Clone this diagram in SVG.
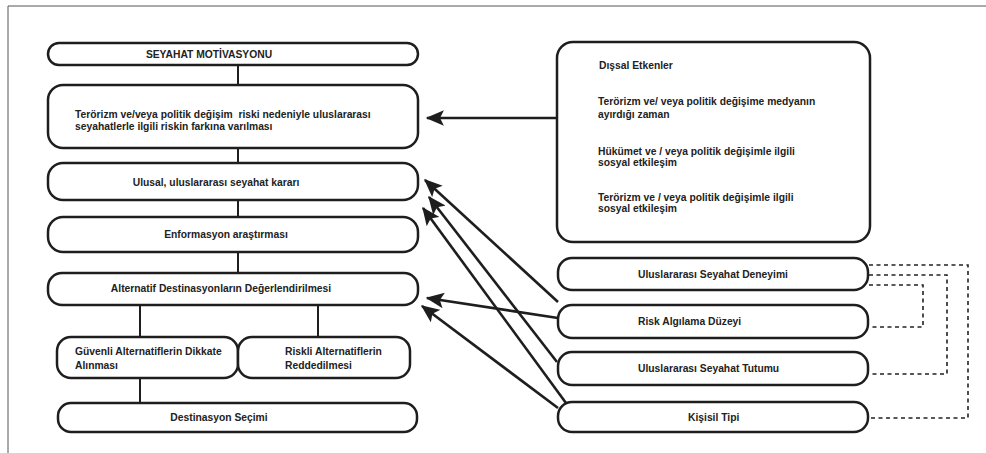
<svg xmlns="http://www.w3.org/2000/svg" width="986" height="453" viewBox="0 0 986 453">
<style>
.box{fill:#fff;stroke:#1e1e1e;stroke-width:2.5}
.t{font-family:"Liberation Sans",Arial,sans-serif;font-size:10.3px;font-weight:bold;fill:#222}
.c{text-anchor:middle}
.ln{stroke:#1e1e1e;stroke-width:2;fill:none}
.ar{stroke:#1e1e1e;stroke-width:2.6;fill:none;marker-end:url(#ah)}
.dl{stroke:#222;stroke-width:1.6;fill:none;stroke-dasharray:4 3.5}
</style>
<defs>
<marker id="ah" markerWidth="8" markerHeight="6" refX="6.5" refY="3" orient="auto" markerUnits="strokeWidth">
<path d="M0,0 L7,3 L0,6 L1.5,3 Z" fill="#1e1e1e"/>
</marker>
</defs>
<rect width="986" height="453" fill="#fff"/>
<path d="M8,453 V6 H986" stroke="#555" stroke-width="1" fill="none"/>
<g id="connectors">
<path class="ln" d="M238,65 V85 M238,148 V163 M238,200 V217 M238,252 V273 M140,305 V337 M318,305 V337 M140,378 V403"/>
<line class="ar" x1="557" y1="118" x2="427" y2="118"/>
<line class="ar" x1="558" y1="302" x2="425" y2="180"/>
<line class="ar" x1="557" y1="362" x2="429" y2="197"/>
<line class="ar" x1="566" y1="403" x2="423" y2="208"/>
<line class="ar" x1="558" y1="318" x2="427" y2="298"/>
<line class="ar" x1="558" y1="408" x2="422" y2="306"/>
<path class="dl" d="M869,265 H968 V418 H870"/>
<path class="dl" d="M869,275 H947 V374 H870"/>
<path class="dl" d="M869,285 H923 V327 H870"/>
</g>
<g id="n1"><rect class="box" x="48" y="43" width="370" height="22" rx="11"/><text class="t c" x="209" y="58">SEYAHAT MOTİVASYONU</text></g>
<g id="n2"><rect class="box" x="48" y="85" width="370" height="63" rx="15"/><text class="t" x="75" y="118" xml:space="preserve">Terörizm ve/veya politik değişim  riski nedeniyle uluslararası</text><text class="t" x="75" y="130">seyahatlerle ilgili riskin farkına varılması</text></g>
<g id="n3"><rect class="box" x="48" y="163" width="370" height="37" rx="15"/><text class="t c" x="216" y="186">Ulusal, uluslararası seyahat kararı</text></g>
<g id="n4"><rect class="box" x="48" y="217" width="370" height="35" rx="15"/><text class="t c" x="226" y="238">Enformasyon araştırması</text></g>
<g id="n5"><rect class="box" x="48" y="273" width="370" height="32" rx="14"/><text class="t c" x="221" y="292">Alternatif Destinasyonların Değerlendirilmesi</text></g>
<g id="n6"><rect class="box" x="57" y="337" width="181" height="41" rx="14"/><text class="t" x="75" y="355">Güvenli Alternatiflerin Dikkate</text><text class="t" x="75" y="369">Alınması</text></g>
<g id="n7"><rect class="box" x="238" y="337" width="172" height="41" rx="14"/><text class="t" x="285" y="355">Riskli Alternatiflerin</text><text class="t" x="285" y="369">Reddedilmesi</text></g>
<g id="n8"><rect class="box" x="58" y="403" width="359" height="29" rx="13"/><text class="t c" x="219" y="421">Destinasyon Seçimi</text></g>
<g id="n9"><rect class="box" x="557" y="42" width="313" height="200" rx="16"/>
<text class="t" x="599" y="69">Dışsal Etkenler</text>
<text class="t" x="598" y="105">Terörizm ve/ veya politik değişime medyanın</text>
<text class="t" x="598" y="118">ayırdığı zaman</text>
<text class="t" x="598" y="155">Hükümet ve / veya politik değişimle ilgili</text>
<text class="t" x="598" y="166">sosyal etkileşim</text>
<text class="t" x="598" y="201">Terörizm ve / veya politik değişimle ilgili</text>
<text class="t" x="598" y="212">sosyal etkileşim</text></g>
<g id="n10"><rect class="box" x="558" y="258" width="310" height="32" rx="14"/><text class="t" x="638" y="278">Uluslararası Seyahat Deneyimi</text></g>
<g id="n11"><rect class="box" x="558" y="305" width="310" height="33" rx="14"/><text class="t" x="638" y="325">Risk Algılama Düzeyi</text></g>
<g id="n12"><rect class="box" x="558" y="352" width="310" height="33" rx="14"/><text class="t" x="638" y="372">Uluslararası Seyahat Tutumu</text></g>
<g id="n13"><rect class="box" x="558" y="402" width="310" height="30" rx="14"/><text class="t" x="688" y="421">Kişisil Tipi</text></g>
</svg>
